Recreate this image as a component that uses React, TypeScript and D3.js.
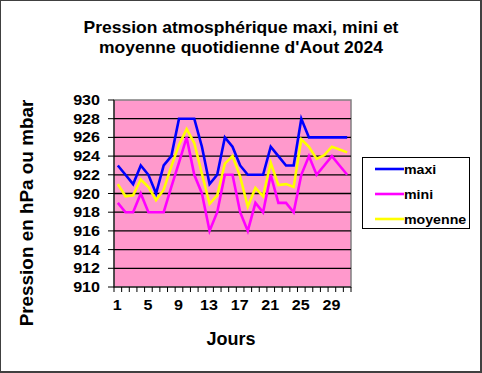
import React from "react";
import * as d3 from "d3";

const days: number[] = d3.range(1, 32);
const maxi: number[] = [923, 922, 921, 923, 922, 920, 923, 924, 928, 928, 928, 925, 921, 922, 926, 925, 923, 922, 922, 922, 925, 924, 923, 923, 928, 926, 926, 926, 926, 926, 926];
const mini: number[] = [919, 918, 918, 920, 918, 918, 918, 920.7, 923.3, 926, 922, 920, 916, 918, 922, 922, 918, 916, 919, 918, 922, 919, 919, 918, 922, 924, 922, 923, 924, 923, 922];
const moyenne: number[] = [921, 919.7, 919.8, 921.5, 920.7, 919.3, 920.4, 922.9, 925.2, 926.9, 925.4, 922.1, 918.9, 919.8, 923.2, 924, 921.8, 918.6, 920.6, 919.7, 923.3, 920.9, 921, 920.7, 925.8, 925, 923.7, 924.1, 925, 924.7, 924.4];
const yTicks: number[] = d3.range(910, 931, 2);
const xLabels: number[] = [1, 5, 9, 13, 17, 21, 25, 29];
const seriesNames = ["maxi", "mini", "moyenne"];
const seriesColors = ["#0000FF", "#FF00FF", "#FFFF00"];
const titleLines = ["Pression atmosphérique maxi, mini et", "moyenne quotidienne d'Aout 2024"];

const W = 482, H = 373;
const L = 114, R = 351, T = 100, B = 287;
const FONT = "'Liberation Sans', Arial, sans-serif";

export default function App() {
  const x = d3.scaleBand<number>().domain(days).range([L, R]);
  const y = d3.scaleLinear().domain([910, 930]).range([B, T]);
  const line = d3.line<number>().x((_, i) => (x(days[i]) as number) + x.bandwidth() / 2).y((d) => y(d));
  const seriesData = [maxi, mini, moyenne];
  const drawOrder = [2, 1, 0];
  const boundaries = d3.range(0, days.length + 1).map((i) => L + i * x.step());

  return (
    <svg width={W} height={H} style={{ position: "absolute", left: 0, top: 0, background: "#fff" }} fontFamily={FONT}>
      <rect x={0.5} y={0.5} width={W - 2} height={H - 2} fill="#fff" stroke="#404040" strokeWidth={1} />
      <line x1={W - 1} y1={0} x2={W - 1} y2={H} stroke="#404040" strokeWidth={2} />
      <line x1={0} y1={H - 1} x2={W} y2={H - 1} stroke="#404040" strokeWidth={2} />
      {titleLines.map((t, i) => (
        <text key={i} transform={`translate(241,${33 + i * 20}) scale(1.06,1)`} textAnchor="middle" fontSize={16.5} fontWeight="bold">{t}</text>
      ))}
      <rect x={L} y={T} width={R - L} height={B - T} fill="#FF99CC" stroke="#808080" strokeWidth={1.5} />
      {yTicks.map((v) => (
        <g key={v}>
          {v > 910 && v < 930 && <line x1={L} x2={R} y1={y(v)} y2={y(v)} stroke="#000" strokeWidth={1.3} />}
          <line x1={L - 6} x2={L} y1={y(v)} y2={y(v)} stroke="#000" strokeWidth={1} />
          <text transform={`translate(100,${y(v)}) scale(1.15,1)`} dy="0.36em" textAnchor="end" fontSize={14} fontWeight="bold">{v}</text>
        </g>
      ))}
      <line x1={L} x2={L} y1={T} y2={B} stroke="#000" strokeWidth={1} />
      <line x1={L} x2={R} y1={B} y2={B} stroke="#000" strokeWidth={1} />
      {boundaries.map((bx, i) => (
        <line key={i} x1={bx} x2={bx} y1={B} y2={B + 5} stroke="#000" strokeWidth={1} />
      ))}
      {xLabels.map((d) => (
        <text key={d} transform={`translate(${(x(d) as number) + x.bandwidth() / 2 - 0.5},310) scale(1.15,1)`} textAnchor="middle" fontSize={14} fontWeight="bold">{d}</text>
      ))}
      {drawOrder.map((k) => (
        <path key={k} d={line(seriesData[k]) || ""} fill="none" stroke={seriesColors[k]} strokeWidth={2.6} strokeLinejoin="miter" />
      ))}
      <text x={231} y={345} textAnchor="middle" fontSize={18} fontWeight="bold">Jours</text>
      <text transform={`translate(33,${213}) rotate(-90) scale(1.05,1)`} textAnchor="middle" fontSize={18} fontWeight="bold">Pression en hPa ou mbar</text>
      <rect x={362.5} y={157.5} width={107} height={71} fill="#fff" stroke="#000" strokeWidth={1} />
      {seriesNames.map((n, i) => (
        <g key={n}>
          <line x1={375} x2={404} y1={169 + i * 25} y2={169 + i * 25} stroke={seriesColors[i]} strokeWidth={2.6} />
          <text transform={`translate(404,${169 + i * 25}) scale(1.05,1)`} dy="0.36em" fontSize={13.5} fontWeight="bold">{n}</text>
        </g>
      ))}
    </svg>
  );
}
